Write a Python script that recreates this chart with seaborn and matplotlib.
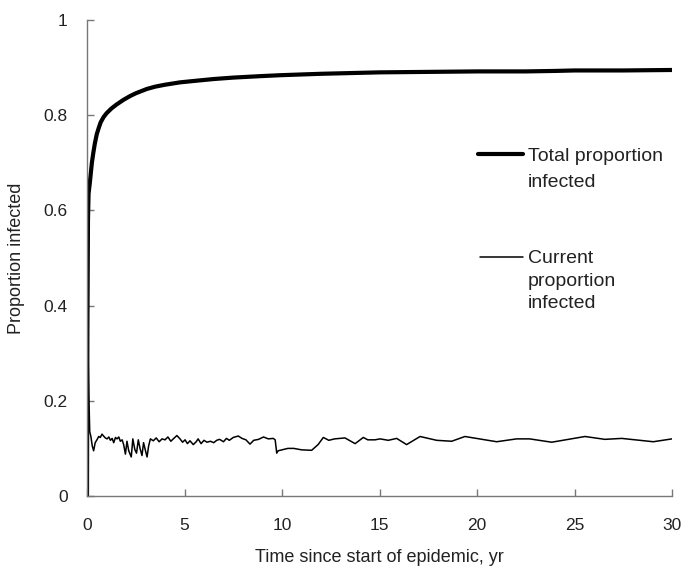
import matplotlib
matplotlib.use("Agg")
import matplotlib.pyplot as plt
import seaborn as sns
import pandas as pd

# Total proportion infected
total_t = [0.0, 0.02, 0.05, 0.08, 0.15, 0.25, 0.32, 0.4, 0.5, 0.6, 0.7, 0.85, 1.0, 1.25, 1.5,
           1.86, 2.2, 2.5, 3.06, 3.5, 4.0, 4.77, 5.5, 6.5, 7.5, 8.87, 9.9, 12.0, 15.0, 17.5,
           20.0, 22.5, 24.0, 25.0, 27.5, 30.0]
total_p = [0.0, 0.35, 0.58, 0.635, 0.66, 0.70, 0.72, 0.74, 0.76, 0.773, 0.785, 0.796, 0.804,
           0.814, 0.822, 0.832, 0.840, 0.846, 0.855, 0.860, 0.864, 0.869, 0.872, 0.876, 0.879,
           0.882, 0.884, 0.887, 0.890, 0.891, 0.892, 0.892, 0.893, 0.894, 0.894, 0.895]

# Current proportion infected
cur_t = [0, 0.03, 0.09, 0.14, 0.2, 0.27, 0.34, 0.42, 0.51, 0.6, 0.68, 0.77, 0.85, 0.94, 1.03,
         1.12, 1.2, 1.29, 1.37, 1.46, 1.54, 1.63, 1.71, 1.8, 1.88, 1.97, 2.05, 2.14, 2.27, 2.35,
         2.45, 2.54, 2.63, 2.72, 2.82, 2.9, 3.0, 3.08, 3.16, 3.25, 3.4, 3.55, 3.7, 3.85, 4.0,
         4.15, 4.3, 4.45, 4.61, 4.77, 4.9, 5.03, 5.15, 5.28, 5.45, 5.6, 5.7, 5.85, 6.0, 6.15,
         6.33, 6.5, 6.65, 6.8, 7.0, 7.15, 7.3, 7.5, 7.76, 7.95, 8.15, 8.36, 8.55, 8.8, 9.05,
         9.3, 9.55, 9.65, 9.73, 9.8, 10.3, 10.6, 11.0, 11.52, 11.85, 12.12, 12.4, 12.7, 13.23,
         13.75, 14.17, 14.4, 14.77, 15.03, 15.45, 15.88, 16.39, 17.08, 17.93, 18.7, 19.38,
         21.01, 22.03, 22.7, 23.83, 25.54, 26.56, 27.42, 29.04, 30.0]
cur_p = [0.0, 0.355, 0.22, 0.135, 0.125, 0.105, 0.095, 0.112, 0.118, 0.125, 0.123, 0.13, 0.126,
         0.122, 0.12, 0.124, 0.117, 0.121, 0.112, 0.123, 0.12, 0.124, 0.115, 0.118, 0.108,
         0.088, 0.115, 0.095, 0.082, 0.12, 0.098, 0.09, 0.118, 0.1, 0.085, 0.112, 0.095, 0.082,
         0.105, 0.12, 0.116, 0.122, 0.114, 0.12, 0.118, 0.124, 0.115, 0.121, 0.127, 0.12, 0.113,
         0.118, 0.11, 0.116, 0.108, 0.114, 0.12, 0.11, 0.117, 0.113, 0.115, 0.112, 0.117, 0.119,
         0.114, 0.121, 0.117, 0.123, 0.126, 0.121, 0.118, 0.109, 0.117, 0.119, 0.124, 0.12,
         0.121, 0.118, 0.09, 0.095, 0.1, 0.1, 0.097, 0.096, 0.108, 0.123, 0.117, 0.12, 0.122,
         0.11, 0.123, 0.118, 0.118, 0.12, 0.117, 0.121, 0.108, 0.125, 0.117, 0.115, 0.125,
         0.114, 0.12, 0.12, 0.113, 0.125, 0.119, 0.121, 0.114, 0.12]

yticks = [0, 0.2, 0.4, 0.6, 0.8, 1]
ytick_labels = ["0", "0.2", "0.4", "0.6", "0.8", "1"]
xticks = [0, 5, 10, 15, 20, 25, 30]

sns.set_theme(style="white")
plt.rcParams["font.family"] = ["Liberation Sans", "DejaVu Sans"]

fig = plt.figure(figsize=(6.98, 5.73), dpi=100)
ax = fig.add_axes([87 / 698, 1 - 496 / 573, 585 / 698, 476 / 573])

df_total = pd.DataFrame({"t": total_t, "p": total_p})
df_cur = pd.DataFrame({"t": cur_t, "p": cur_p})
sns.lineplot(data=df_cur, x="t", y="p", ax=ax, color="black", linewidth=1.1,
             estimator=None, sort=False)
sns.lineplot(data=df_total, x="t", y="p", ax=ax, color="black", linewidth=3.0,
             estimator=None, sort=False)

ax.set_xlim(0, 30)
ax.set_ylim(0, 1)
ax.set_xticks(xticks)
ax.set_xticklabels([str(v) for v in xticks])
ax.set_yticks(yticks)
ax.set_yticklabels(ytick_labels)

for s in ["top", "right"]:
    ax.spines[s].set_visible(False)
for s in ["left", "bottom"]:
    ax.spines[s].set_color("#777777")
    ax.spines[s].set_linewidth(1.0)

ax.tick_params(axis="both", direction="in", length=5, width=1, color="#777777",
               labelsize=12.5, labelcolor="#222222", bottom=True, left=True)
ax.tick_params(axis="x", pad=16)
ax.tick_params(axis="y", pad=14)

ax.set_xlabel("Time since start of epidemic, yr", fontsize=13, color="#222222", labelpad=11)
ax.set_ylabel("Proportion infected", fontsize=13, color="#222222", labelpad=13)

# legend (manual, handle aligned with first text line)
ax.plot([0.668, 0.745], [0.718, 0.718], transform=ax.transAxes, color="black", linewidth=3.0)
ax.text(0.754, 0.732, "Total proportion\ninfected", transform=ax.transAxes, fontsize=14,
        va="top", ha="left", color="#222222", linespacing=1.76)
ax.plot([0.672, 0.745], [0.502, 0.502], transform=ax.transAxes, color="black", linewidth=1.1)
ax.text(0.754, 0.516, "Current\nproportion\ninfected", transform=ax.transAxes, fontsize=14,
        va="top", ha="left", color="#222222", linespacing=1.42)

fig.savefig("out.png", dpi=100)
